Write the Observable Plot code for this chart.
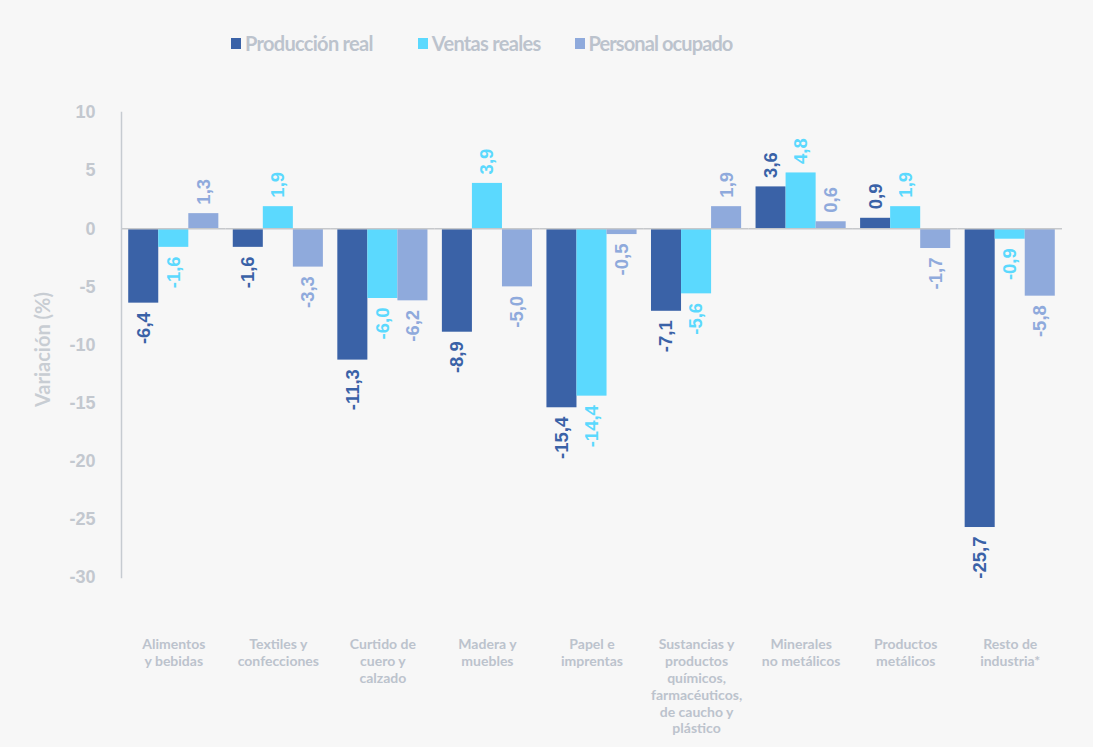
<!DOCTYPE html>
<html><head><meta charset="utf-8">
<script src="https://cdn.jsdelivr.net/npm/d3@7"></script>
<script src="https://cdn.jsdelivr.net/npm/@observablehq/plot@0.6"></script>
<style>
body{margin:0;background:#f7f7f7;width:1093px;height:747px;overflow:hidden}
#legend{height:26px;margin-top:30px;margin-bottom:14px;padding-left:231px;display:flex;align-items:center;font-family:Lato,sans-serif;font-weight:700;font-size:20px;letter-spacing:-0.7px;color:#bcc3cd}
#legend .item{display:flex;align-items:center;margin-right:45px}
#legend .item:nth-child(2){margin-right:34px}
#legend .item:nth-child(3){letter-spacing:-0.9px}
#legend .sw{width:10px;height:11px;margin-right:4px}
svg{display:block}
</style>
</head><body>
<div id="legend"></div>
<div id="chart"></div>
<script>
const categories = ["Alimentos y bebidas","Textiles y confecciones","Curtido de cuero y calzado","Madera y muebles","Papel e imprentas","Sustancias y productos químicos, farmacéuticos, de caucho y plástico","Minerales no metálicos","Productos metálicos","Resto de industria*"];
const categoryLabels = ["Alimentos\ny bebidas","Textiles y\nconfecciones","Curtido de\ncuero y\ncalzado","Madera y\nmuebles","Papel e\nimprentas","Sustancias y\nproductos\nquímicos,\nfarmacéuticos,\nde caucho y\nplástico","Minerales\nno metálicos","Productos\nmetálicos","Resto de\nindustria*"];
const series = ["Producción real","Ventas reales","Personal ocupado"];
const colors = ["#3a62a7","#5bd9fe","#8faadc"];
const produccion = [-6.4,-1.6,-11.3,-8.9,-15.4,-7.1,3.6,0.9,-25.7];
const ventas = [-1.6,1.9,-6.0,3.9,-14.4,-5.6,4.8,1.9,-0.9];
const personal = [1.3,-3.3,-6.2,-5.0,-0.5,1.9,0.6,-1.7,-5.8];
const yTicks = [10,5,0,-5,-10,-15,-20,-25,-30];
const yLabel = "Variación (%)";

const values = [produccion, ventas, personal];
const data = [];
categories.forEach((c,i)=>series.forEach((s,j)=>data.push({cat:c, serie:s, value:values[j][i]})));
const fmt = v => v.toFixed(1).replace(".", ",");
const labelOf = new Map(categories.map((c,i)=>[c, categoryLabels[i]]));

const legend = document.getElementById("legend");
series.forEach((s,i)=>{
  const it = document.createElement("div"); it.className="item";
  const sw = document.createElement("div"); sw.className="sw"; sw.style.background=colors[i];
  const t = document.createElement("span"); t.textContent=s;
  it.append(sw,t); legend.append(it);
});

const valFont = {fontSize:18.5, fontWeight:"bold", fontFamily:"Liberation Sans, Arial, sans-serif"};
const chart = Plot.plot({
  width:1093, height:677,
  marginLeft:121, marginRight:31, marginTop:42, marginBottom:170,
  style:{background:"transparent", overflow:"visible"},
  fx:{domain:categories, padding:0, round:false, axis:null},
  x:{domain:series, paddingInner:0, paddingOuter:0.24, round:false, axis:null},
  y:{domain:[-30,10], axis:null},
  color:{domain:series, range:colors},
  marks:[
    Plot.barY(data,{fx:"cat", x:"serie", y:"value", fill:"serie"}),
    Plot.ruleY([0],{stroke:"#c6c8cb", strokeWidth:1.5}),
    Plot.frame({anchor:"left", facet:"super", stroke:"#c6cbd1", strokeWidth:1.5}),
    Plot.axisY({ticks:yTicks, tickFormat:d=>String(d), tickSize:0, tickPadding:26, fontSize:18, fontWeight:"bold", fontFamily:"Liberation Sans, Arial, sans-serif", fill:"#c3c8cf", label:null}),
    Plot.text([yLabel],{facet:"super", frameAnchor:"left", dx:-78, dy:62, rotate:-90, text:d=>d, fontSize:20, fontWeight:"bold", fontFamily:"Lato, sans-serif", fill:"#c8cdd3"}),
    Plot.axisFx({anchor:"bottom", tickSize:0, tickPadding:60, tickFormat:d=>labelOf.get(d), lineHeight:1.2, fontSize:14, fontWeight:"bold", fontFamily:"Lato, sans-serif", fill:"#bcc3cd", label:null, lineAnchor:"top"}),
    Plot.text(data.filter(d=>d.value>=0),{fx:"cat", x:"serie", y:"value", text:d=>fmt(d.value), fill:"serie", rotate:-90, textAnchor:"start", dy:-9, ...valFont}),
    Plot.text(data.filter(d=>d.value<0),{fx:"cat", x:"serie", y:"value", text:d=>fmt(d.value), fill:"serie", rotate:-90, textAnchor:"end", dy:9, ...valFont})
  ]
});
document.getElementById("chart").append(chart);
</script>
</body></html>
